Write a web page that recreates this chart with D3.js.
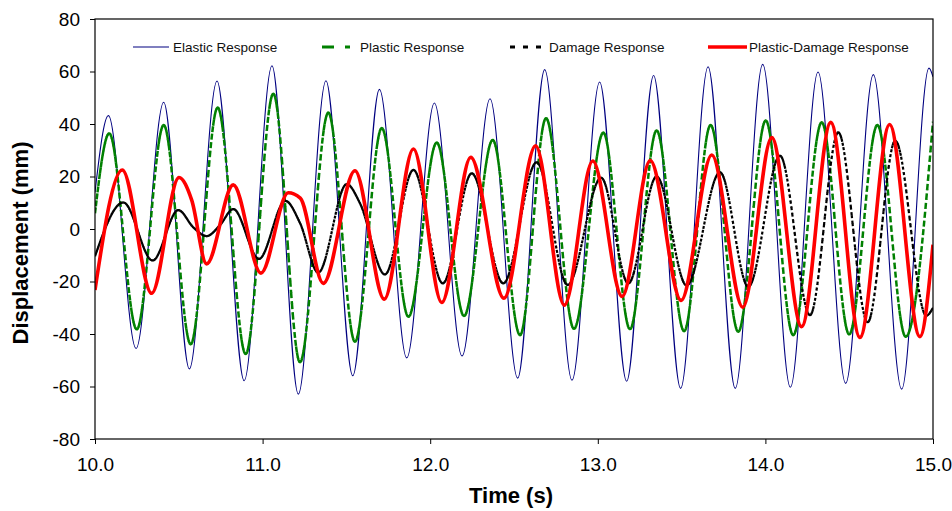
<!DOCTYPE html>
<html>
<head>
<meta charset="utf-8">
<script src="https://d3js.org/d3.v7.min.js"></script>
<style>
	body { margin: 0; background: #fff; }
	svg { font-family: "Liberation Sans", Arial, sans-serif; }
</style>
</head>
<body>
<svg id="chart" width="952" height="511"></svg>
<script>
// ---- data (extrema + a few shoulder points) ----
const timeTicks = [10, 11, 12, 13, 14, 15];
const dispTicks = [-80, -60, -40, -20, 0, 20, 40, 60, 80];
const seriesNames = ["Elastic Response", "Plastic Response", "Damage Response", "Plastic-Damage Response"];

const elasticTime = [10.0, 10.08, 10.245, 10.41, 10.563, 10.728, 10.89, 11.056, 11.213, 11.378, 11.538, 11.697, 11.86, 12.025, 12.19, 12.357, 12.522, 12.683, 12.846, 13.011, 13.172, 13.333, 13.494, 13.658, 13.82, 13.984, 14.149, 14.314, 14.479, 14.644, 14.813, 14.976, 15.0];
const elasticDisp = [14, 43.2, -45.5, 48.3, -53.3, 56.4, -57.8, 62.2, -62.9, 56.5, -55.9, 53.2, -49.1, 48, -48.4, 49.6, -56.8, 60.7, -57.6, 56, -58, 58.5, -60.7, 61.8, -60.7, 62.7, -60.3, 59.8, -58.8, 58.8, -61, 61.3, 58];

const plasticTime = [10.0, 10.085, 10.249, 10.41, 10.571, 10.732, 10.899, 11.064, 11.223, 11.392, 11.551, 11.711, 11.87, 12.039, 12.202, 12.373, 12.536, 12.691, 12.858, 13.033, 13.192, 13.351, 13.515, 13.673, 13.838, 14.002, 14.166, 14.336, 14.5, 14.668, 14.837, 15.0];
const plasticDisp = [6, 36.4, -38.2, 39.6, -43.9, 46.2, -47.6, 51.5, -50.7, 44.3, -42.9, 38.4, -33.4, 32.9, -33.1, 33.9, -40.4, 42.2, -38, 36.7, -38.1, 37.5, -38.9, 39.6, -39.1, 41.3, -40.4, 40.6, -40.1, 39.6, -41, 40.9];

const damageTime = [10.0, 10.169, 10.344, 10.497, 10.587, 10.666, 10.746, 10.825, 10.978, 11.136, 11.223, 11.332, 11.502, 11.581, 11.73, 11.9, 12.075, 12.248, 12.436, 12.635, 12.82, 13.02, 13.182, 13.351, 13.53, 13.729, 13.898, 14.087, 14.266, 14.435, 14.61, 14.775, 14.96, 15.0];
const damageDisp = [-10.4, 10.1, -12, 7.2, 0.6, -2.7, 1.5, 7.6, -11.4, 10.7, 2.3, -16.6, 17.1, 9.8, -17.3, 22.5, -20.7, 21.2, -20.7, 25.4, -21.3, 19.5, -20.7, 20, -21.5, 21.6, -22, 27.9, -32.8, 36.8, -35.5, 33.6, -33, -30];

const plasticDamageTime = [10.0, 10.163, 10.338, 10.501, 10.577, 10.666, 10.825, 10.99, 11.153, 11.225, 11.362, 11.551, 11.726, 11.9, 12.069, 12.242, 12.44, 12.629, 12.8, 12.97, 13.145, 13.313, 13.497, 13.68, 13.865, 14.038, 14.216, 14.39, 14.564, 14.741, 14.922, 15.0];
const plasticDamageDisp = [-23.2, 22.5, -24.5, 19.6, 11, -13.3, 16.8, -16.8, 13.8, 11.8, -20.7, 22.2, -26.7, 30.5, -28, 27.3, -26.4, 31.7, -29, 25.9, -25.7, 26.1, -27.2, 28.2, -29.8, 34.8, -37.2, 40.6, -41.3, 39.8, -41, -6];

// ---- setup ----
const svg = d3.select("#chart");
const x = d3.scaleLinear().domain([10, 15]).range([95, 933]);
const y = d3.scaleLinear().domain([-80, 80]).range([439, 19]);

const pairs = (t, v) => t.map((ti, i) => [ti, v[i]]);
const line_generator = d3.line()
	.x(d => x(d[0]))
	.y(d => y(d[1]))
	.curve(d3.curveMonotoneX);

svg.append("clipPath").attr("id", "plot-clip")
	.append("rect")
	.attr("x", x.range()[0]).attr("y", y.range()[1])
	.attr("width", x.range()[1] - x.range()[0])
	.attr("height", y.range()[0] - y.range()[1]);

const plot = svg.append("g").attr("clip-path", "url(#plot-clip)");

// Excel restarts the dash pattern on every small data segment, so flat parts
// look solid and steep parts look dashed. Mimic it: cut the curve into thin
// vertical slices (0.005 s wide) and dash each slice on its own.
function drawSliced(g, points, color, width, dash) {
	const d = line_generator(points);
	const start = d.slice(1, d.indexOf("C"));
	const pieces = d.slice(d.indexOf("C") + 1).split("C");
	const probe = g.append("path").attr("fill", "none");
	const node = probe.node();
	const sliceW = x(10.005) - x(10);
	const samples = [];
	let from = start;
	pieces.forEach(piece => {
		node.setAttribute("d", "M" + from + "C" + piece);
		const len = node.getTotalLength();
		const n = Math.max(2, Math.ceil(len / 0.5));
		for (let k = (samples.length ? 1 : 0); k <= n; k++) {
			const p = node.getPointAtLength(len * k / n);
			samples.push([p.x, p.y]);
		}
		const nums = piece.split(",");
		from = nums[nums.length - 2] + "," + nums[nums.length - 1];
	});
	probe.remove();

	const slices = [];
	let cur = [samples[0]];
	let bin = Math.floor((samples[0][0] - x.range()[0]) / sliceW);
	for (let i = 1; i < samples.length; i++) {
		const p = samples[i];
		const b = Math.floor((p[0] - x.range()[0]) / sliceW);
		cur.push(p);
		if (b !== bin) {
			slices.push(cur);
			cur = [samples[i - 1], p];
			bin = b;
		}
	}
	if (cur.length > 1) slices.push(cur);

	g.append("g")
		.selectAll("path")
		.data(slices)
		.join("path")
		.attr("d", d3.line())
		.attr("fill", "none")
		.attr("stroke", color)
		.attr("stroke-width", width)
		.attr("stroke-dasharray", dash);
}

// Elastic
plot.append("path")
	.attr("d", line_generator(pairs(elasticTime, elasticDisp)))
	.attr("fill", "none")
	.attr("stroke", "#000080")
	.attr("stroke-width", 1.1);

// Plastic
drawSliced(plot, pairs(plasticTime, plasticDisp), "#008000", 2.5, "6,3");

// Damage
drawSliced(plot, pairs(damageTime, damageDisp), "#000", 2.2, "3,2.5");

// Plastic-Damage
plot.append("path")
	.attr("d", line_generator(pairs(plasticDamageTime, plasticDamageDisp)))
	.attr("fill", "none")
	.attr("stroke", "#ff0000")
	.attr("stroke-width", 3.6)
	.attr("stroke-linejoin", "round");

// ---- axes ----
const yAxis = svg.append("g")
	.attr("transform", `translate(${x.range()[0]},0)`)
	.call(d3.axisLeft(y).tickValues(dispTicks).tickSize(5).tickSizeOuter(0).tickPadding(10)
		.tickFormat(d => String(d)));

const xAxis = svg.append("g")
	.attr("transform", `translate(0,${y.range()[0]})`)
	.call(d3.axisBottom(x).tickValues(timeTicks).tickSize(5).tickSizeOuter(0).tickPadding(14)
		.tickFormat(d3.format(".1f")));

[xAxis, yAxis].forEach(a => {
	a.selectAll("text").attr("font-size", 19).attr("fill", "#000")
		.attr("font-family", "'Liberation Sans', Arial, sans-serif");
	a.selectAll("line").attr("stroke", "#000");
	a.select(".domain").remove();
});

// plot frame
svg.append("rect")
	.attr("x", x.range()[0]).attr("y", y.range()[1])
	.attr("width", x.range()[1] - x.range()[0])
	.attr("height", y.range()[0] - y.range()[1])
	.attr("fill", "none")
	.attr("stroke", "#000")
	.attr("stroke-width", 1.2);

// axis titles
svg.append("text")
	.attr("x", 511).attr("y", 503)
	.attr("text-anchor", "middle")
	.attr("font-size", 22).attr("font-weight", "bold")
	.text("Time (s)");

svg.append("text")
	.attr("transform", "translate(28,243) rotate(-90)")
	.attr("text-anchor", "middle")
	.attr("font-size", 22).attr("font-weight", "bold")
	.text("Displacement (mm)");

// ---- legend ----
const legendStyles = [
	{ x1: 133, x2: 169, color: "#000080", width: 1.2, dash: null },
	{ x1: 322, x2: 350, color: "#008000", width: 3, dash: "12,11" },
	{ x1: 510, x2: 542, color: "#000", width: 3, dash: "5,8" },
	{ x1: 708, x2: 747, color: "#ff0000", width: 3.6, dash: null }
];
const legend = svg.append("g");
seriesNames.forEach((name, i) => {
	const s = legendStyles[i];
	legend.append("line")
		.attr("x1", s.x1).attr("x2", s.x2)
		.attr("y1", 47).attr("y2", 47)
		.attr("stroke", s.color)
		.attr("stroke-width", s.width)
		.attr("stroke-dasharray", s.dash);
	legend.append("text")
		.attr("x", [173, 360, 549, 749][i])
		.attr("y", 52)
		.attr("font-size", 13.5)
		.attr("fill", "#111")
		.text(name);
});
</script>
</body>
</html>
